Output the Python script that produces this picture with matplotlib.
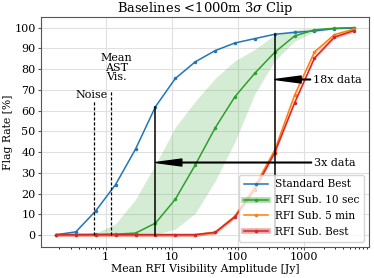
import numpy as np
import matplotlib
matplotlib.use("Agg")
import matplotlib.pyplot as plt
from matplotlib.lines import Line2D
from matplotlib.ticker import FixedLocator, FixedFormatter

plt.rcParams['font.family'] = 'DejaVu Serif'
plt.rcParams['mathtext.fontset'] = 'dejavuserif'

# Mean RFI amplitude [Jy]
amp = [0.178, 0.356, 0.71, 1.42, 2.85, 5.7, 11.4, 22.8, 45.6, 91, 182, 365, 730, 1460, 2920, 5840]

std_best = [0.2, 1.6, 11.7, 24.4, 41.5, 61.9, 75.5, 83.5, 88.9, 92.6, 94.7, 96.8, 97.7, 98.4, 99.5, 99.8]
sub_10s = [0.2, 0.3, 0.4, 0.5, 1.0, 5.8, 17.3, 33.8, 51.6, 66.7, 78.0, 88.1, 96.0, 98.9, 99.7, 100.0]
sub_10s_hi = [0.3, 0.4, 1.0, 5.5, 17.3, 34.0, 52.0, 64.5, 75.5, 84.0, 89.5, 96.5, 99.0, 99.7, 99.9, 100.0]
sub_10s_lo = [0.1, 0.1, 0.1, 0.1, 0.2, 0.3, 3.0, 10.5, 26.0, 45.0, 68.0, 84.0, 93.5, 98.0, 99.4, 99.8]
sub_5min = [0.2, 0.2, 0.2, 0.2, 0.2, 0.2, 0.2, 0.2, 1.4, 9.2, 23.5, 41.0, 67.5, 88.3, 96.6, 99.3]
sub_best = [0.2, 0.2, 0.2, 0.2, 0.2, 0.2, 0.2, 0.2, 1.3, 8.8, 22.0, 39.8, 63.8, 85.4, 95.4, 98.6]

noise_amp = 0.676
ast_amp = 1.22

fig = plt.figure(figsize=(3.74, 2.78), dpi=100)
ax = fig.add_axes([0.11, 0.112, 0.877, 0.827])

amp = np.array(amp)
ax.plot(amp, std_best, '.-', color='tab:blue', lw=1.1, ms=3, label='Standard Best')
ax.fill_between(amp, sub_10s_lo, sub_10s_hi, color='tab:green', alpha=0.2, lw=0)
ax.plot(amp, sub_10s, '.-', color='tab:green', lw=1.1, ms=3)
ax.fill_between(amp, np.array(sub_5min) - 0.8, np.array(sub_5min) + 0.8, color='tab:orange', alpha=0.3, lw=0)
ax.plot(amp, sub_5min, '.-', color='tab:orange', lw=1.1, ms=3)
ax.fill_between(amp, np.array(sub_best) - 0.8, np.array(sub_best) + 0.8, color='tab:red', alpha=0.3, lw=0)
ax.plot(amp, sub_best, '.-', color='tab:red', lw=1.1, ms=3)

# noise / AST markers
ax.plot([noise_amp, noise_amp], [0, 64.5], color='k', ls=(0, (2.5, 1.5)), lw=0.9)
ax.plot([ast_amp, ast_amp], [0, 69.5], color='k', ls=(0, (2.5, 1.5)), lw=0.9)
ax.text(0.62, 67.3, 'Noise', ha='center', va='center', fontsize=8)
ax.text(1.45, 80.6, 'Mean\nAST\nVis.', ha='center', va='center', fontsize=8, linespacing=0.95)

# data-volume arrows
ax.plot([amp[5], amp[5]], [0, std_best[5]], 'k-', lw=1.1)
ax.plot([amp[11], amp[11]], [0, std_best[11]], 'k-', lw=1.1)
arr = dict(width=0.5, headwidth=5, headlength=19, facecolor='k', edgecolor='k', shrink=0)
ax.annotate('3x data', xy=(amp[5], 35), xytext=(1450, 35), va='center', ha='left',
            fontsize=8, arrowprops=arr)
ax.annotate('18x data', xy=(amp[11], 75), xytext=(1400, 75), va='center', ha='left',
            fontsize=8, arrowprops=arr)

ax.set_xscale('log')
ax.xaxis.set_major_locator(FixedLocator([1, 10, 100, 1000]))
ax.xaxis.set_major_formatter(FixedFormatter(['1', '10', '100', '1000']))
ax.set_yticks(range(0, 101, 10))
ax.tick_params(labelsize=8, length=2, pad=2, color='#555555')
ax.tick_params(which='minor', length=1.2)
ax.grid(True, color='#e0e0e0', lw=0.8)
ax.set_axisbelow(True)
for s in ax.spines.values():
    s.set_color('#555555')

ax.set_xlabel('Mean RFI Visibility Amplitude [Jy]', fontsize=7.8, labelpad=1)
ax.set_ylabel('Flag Rate [%]', fontsize=7.8, labelpad=1)
ax.set_title(r'Baselines <1000m 3$\sigma$ Clip', fontsize=9.4, pad=3)

handles = [
    Line2D([], [], color='tab:blue', marker='.', ms=3, lw=1.1),
    (Line2D([], [], color='tab:green', lw=4, alpha=0.4),
     Line2D([], [], color='tab:green', marker='.', ms=3, lw=1.1)),
    Line2D([], [], color='tab:orange', marker='.', ms=3, lw=1.1),
    (Line2D([], [], color='tab:red', lw=4, alpha=0.4),
     Line2D([], [], color='tab:red', marker='.', ms=3, lw=1.1)),
]
labels = ['Standard Best', 'RFI Sub. 10 sec', 'RFI Sub. 5 min', 'RFI Sub. Best']
ax.legend(handles, labels, loc='lower right', fontsize=7.6, handlelength=2.3,
          labelspacing=0.55, borderpad=0.45, handletextpad=0.6)

fig.savefig('out.png', dpi=100)
